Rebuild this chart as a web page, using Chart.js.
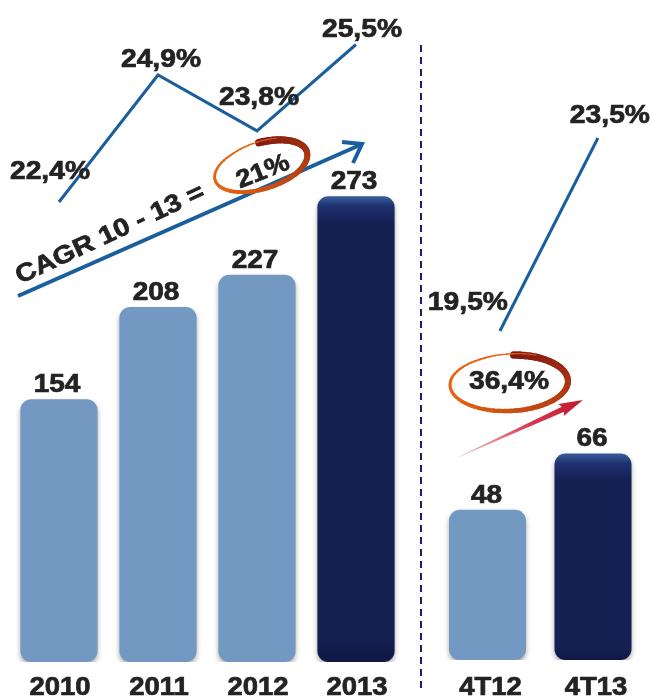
<!DOCTYPE html>
<html>
<head>
<meta charset="utf-8">
<script src="https://cdn.jsdelivr.net/npm/chart.js@4/dist/chart.umd.min.js"></script>
<style>
  html, body { margin: 0; padding: 0; background: #fff; }
  body { width: 654px; height: 698px; position: relative; overflow: hidden; }
  .caixa { position: absolute; top: 0; height: 698px; }
</style>
</head>
<body>
<div class="caixa" style="left:0;width:420px"><canvas id="anual"></canvas></div>
<div class="caixa" style="left:420px;width:234px"><canvas id="trimestral"></canvas></div>
<script>
// dados
const anos = ['2010', '2011', '2012', '2013'];
const ebitdaAnual = [154, 208, 227, 273];
const margemAnual = [22.4, 24.9, 23.8, 25.5];
const trimestres = ['4T12', '4T13'];
const ebitdaTrim = [48, 66];
const margemTrim = [19.5, 23.5];
const cagrTexto = 'CAGR 10 - 13 =';
const cagrValor = '21%';
const crescTrim = '36,4%';

// estilo
const corTexto = '#232323';
const corLinha = '#1a5e9e';
const claro = '#7399c2';
const escuro = '#141f52';
const fonte = '"Liberation Sans", Arial, sans-serif';
const desvioAnual = [[-9, -30], [3, -15], [2, -33], [6, -14]];
const desvioTrim = [[-32, -28], [12, -22]];

const pct = v => v.toFixed(1).replace('.', ',') + '%';

function texto(ctx, str, x, y, o) {
  o = o || {};
  ctx.save();
  ctx.translate(x, y);
  if (o.rot) ctx.rotate(o.rot);
  ctx.scale(o.sx || 1.12, 1);
  ctx.font = 'bold ' + (o.size || 25) + 'px ' + fonte;
  ctx.fillStyle = corTexto;
  ctx.strokeStyle = corTexto;
  ctx.lineWidth = 0.7;
  ctx.textAlign = o.align || 'center';
  ctx.textBaseline = o.base || 'middle';
  ctx.fillText(str, 0, 0);
  ctx.strokeText(str, 0, 0);
  ctx.restore();
}

function corBarra(cores) {
  return (c) => {
    const cor = cores[c.dataIndex];
    if (cor !== escuro || !c.chart.chartArea) return cor;
    const y = c.chart.scales.y.getPixelForValue(c.raw);
    const g = c.chart.ctx.createLinearGradient(0, y, 0, c.chart.chartArea.bottom);
    const h = c.chart.chartArea.bottom - y;
    g.addColorStop(0, '#3a5e9c');
    g.addColorStop(Math.min(1, 10 / h), '#1e3170');
    g.addColorStop(Math.min(1, 28 / h), escuro);
    g.addColorStop(0.95, escuro);
    g.addColorStop(1, '#0f1843');
    return g;
  };
}

// elipse com traço de pincel
function elipse(ctx, cx, cy, rx, ry, rot) {
  const n = 70, a0 = -Math.PI / 2 + 0.1, a1 = a0 + Math.PI * 2 + 0.35;
  ctx.save();
  ctx.lineCap = 'round';
  for (let k = 0; k < n; k++) {
    const t = k / n;
    const s = a0 + (a1 - a0) * t, e = a0 + (a1 - a0) * (t + 1 / n) + 0.01;
    const r = Math.round(130 + 100 * Math.min(1, t * 1.6));
    const gr = Math.round(25 + 75 * Math.min(1, t * 1.6));
    ctx.strokeStyle = 'rgb(' + r + ',' + gr + ',18)';
    ctx.lineWidth = 7.5 - 6.7 * t;
    ctx.beginPath();
    const esc = 1 + (t > 0.85 ? (t - 0.85) * 0.5 : 0);
    ctx.ellipse(cx, cy, rx * esc, ry * esc, rot, s, e);
    ctx.stroke();
  }
  ctx.restore();
}

function sombra(chart) {
  const ctx = chart.ctx;
  ctx.save();
  ctx.shadowColor = 'rgba(0,0,0,0.35)';
  ctx.shadowBlur = 5;
  ctx.shadowOffsetY = 3;
}

const anotAnual = {
  id: 'anotAnual',
  beforeDatasetDraw(chart, args) { if (args.index === 0) sombra(chart); },
  afterDatasetDraw(chart, args) { if (args.index === 0) chart.ctx.restore(); },
  afterDatasetsDraw(chart) {
    const ctx = chart.ctx;
    const barras = chart.getDatasetMeta(0).data;
    const pontos = chart.getDatasetMeta(1).data;
    barras.forEach((b, i) => {
      texto(ctx, String(ebitdaAnual[i]), b.x - 2, b.y - 14);
      texto(ctx, anos[i], b.x + 1, 695, { base: 'alphabetic', sx: 1.1 });
    });
    pontos.forEach((p, i) => texto(ctx, pct(margemAnual[i]), p.x + desvioAnual[i][0], p.y + desvioAnual[i][1], { sx: 1.13 }));

    // seta CAGR
    ctx.save();
    ctx.strokeStyle = corLinha;
    ctx.lineWidth = 4;
    ctx.beginPath();
    ctx.moveTo(18, 296);
    ctx.lineTo(360, 145);
    ctx.stroke();
    ctx.lineJoin = 'miter';
    ctx.beginPath();
    ctx.moveTo(342, 142);
    ctx.lineTo(362, 144);
    ctx.lineTo(353, 163);
    ctx.stroke();
    ctx.restore();

    elipse(ctx, 261, 166, 48, 23, -0.3);
    texto(ctx, cagrValor, 263, 172, { rot: -0.38, sx: 1.1 });
    texto(ctx, cagrTexto, 20, 284, { rot: -0.435, sx: 1.14, align: 'left', base: 'alphabetic' });
  }
};

const anotTrim = {
  id: 'anotTrim',
  beforeDatasetDraw(chart, args) { if (args.index === 0) sombra(chart); },
  afterDatasetDraw(chart, args) { if (args.index === 0) chart.ctx.restore(); },
  beforeDatasetsDraw(chart) {
    const ctx = chart.ctx;
    ctx.save();
    ctx.strokeStyle = '#1c1c6e';
    ctx.lineWidth = 2;
    ctx.setLineDash([7, 5]);
    ctx.beginPath();
    ctx.moveTo(1, 45);
    ctx.lineTo(1, 688);
    ctx.stroke();
    ctx.restore();
  },
  afterDatasetsDraw(chart) {
    const ctx = chart.ctx;
    const barras = chart.getDatasetMeta(0).data;
    const pontos = chart.getDatasetMeta(1).data;
    barras.forEach((b, i) => {
      texto(ctx, String(ebitdaTrim[i]), b.x - 1, b.y - 14);
      texto(ctx, trimestres[i], b.x + 3, 695, { base: 'alphabetic', sx: 1.1 });
    });
    pontos.forEach((p, i) => texto(ctx, pct(margemTrim[i]), p.x + desvioTrim[i][0], p.y + desvioTrim[i][1], { sx: 1.13 }));

    // seta vermelha
    ctx.save();
    ctx.translate(32, 460);
    ctx.rotate(Math.atan2(-60, 131));
    const L = 144;
    const g = ctx.createLinearGradient(0, 0, L, 0);
    g.addColorStop(0, 'rgba(220,90,110,0.35)');
    g.addColorStop(0.6, '#d43a50');
    g.addColorStop(1, '#c01830');
    ctx.fillStyle = g;
    ctx.beginPath();
    ctx.moveTo(0, 0);
    ctx.lineTo(L - 22, -2.8);
    ctx.lineTo(L - 24, -6.5);
    ctx.lineTo(L, 0);
    ctx.lineTo(L - 24, 6.5);
    ctx.lineTo(L - 22, 2.8);
    ctx.closePath();
    ctx.fill();
    ctx.restore();

    elipse(ctx, 89, 383, 59, 28, -0.04);
    texto(ctx, crescTrim, 89, 382, { sx: 1.13 });
  }
};

function opcoes(max, min2, max2, pad, eixoLinha) {
  const escalas = {
    x: { display: false },
    y: { display: false, min: 0, max: max },
    y2: { display: false, min: min2, max: max2 }
  };
  if (eixoLinha) escalas.xl = Object.assign({ type: 'linear', display: false, offset: false, grid: { offset: false } }, eixoLinha);
  return {
    responsive: true,
    maintainAspectRatio: false,
    animation: false,
    layout: { padding: pad },
    plugins: { legend: { display: false }, tooltip: { enabled: false } },
    scales: escalas
  };
}

new Chart('anual', {
  type: 'bar',
  data: {
    labels: anos,
    datasets: [{
      data: ebitdaAnual,
      backgroundColor: corBarra([claro, claro, claro, escuro]),
      borderRadius: 11,
      borderSkipped: false,
      categoryPercentage: 1,
      barPercentage: 0.78,
      order: 2
    }, {
      type: 'line',
      data: margemAnual,
      yAxisID: 'y2',
      borderColor: corLinha,
      borderWidth: 3,
      pointRadius: 0,
      tension: 0,
      order: 1
    }]
  },
  options: opcoes(388, 13.345, 26.376, { left: 9.5, right: 14.5, top: 0, bottom: 36 }),
  plugins: [anotAnual]
});

new Chart('trimestral', {
  type: 'bar',
  data: {
    labels: trimestres,
    datasets: [{
      data: ebitdaTrim,
      xAxisID: 'x',
      yAxisID: 'y',
      grouped: false,
      backgroundColor: corBarra([claro, escuro]),
      borderRadius: 11,
      borderSkipped: false,
      categoryPercentage: 1,
      barPercentage: 0.73,
      order: 2
    }, {
      type: 'line',
      data: margemTrim.map((v, i) => ({ x: i, y: v })),
      xAxisID: 'xl',
      yAxisID: 'y2',
      borderColor: corLinha,
      borderWidth: 3,
      pointRadius: 0,
      tension: 0,
      order: 1
    }]
  },
  options: opcoes(210.9, 12.68, 26.36, { left: 14.75, right: 8.25, top: 0, bottom: 38 }, { min: -0.665, max: 1.488 }),
  plugins: [anotTrim]
});
</script>
</body>
</html>
